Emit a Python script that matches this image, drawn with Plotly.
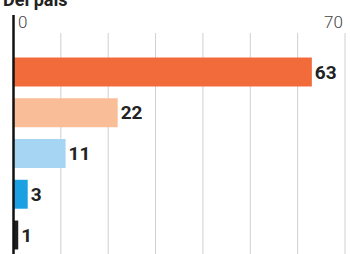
import plotly.graph_objects as go

categories = ["A", "B", "C", "D", "E"]
values = [63, 22, 11, 3, 1]
colors = ["#F26B3A", "#F9BD98", "#A6D5F4", "#1BA1E2", "#1E1E1E"]
tick_vals = [0, 10, 20, 30, 40, 50, 60, 70]
title = "Del país"

W, H = 350, 254
x0px, x70px = 13.5, 345.0
ppu = (x70px - x0px) / 70
xrange = [-x0px / ppu, (W - x0px) / ppu]

c0, step = 72.0, 40.75
yrange = [(H - c0) / step, -c0 / step]

ypos = list(range(len(categories)))

fig = go.Figure(go.Bar(
    x=values, y=ypos, orientation="h",
    marker=dict(color=colors, line=dict(width=0)),
    width=0.71,
    text=[str(v) for v in values], textposition="outside",
    textfont=dict(family="Roboto", size=19, weight="bold", color="#222"),
    cliponaxis=False, hoverinfo="skip",
))

shapes = []
for t in tick_vals[1:]:
    shapes.append(dict(type="line", xref="x", yref="paper", x0=t, x1=t,
                       y0=0, y1=1 - 33 / H, line=dict(color="#cfcfcf", width=1),
                       layer="below"))
shapes.append(dict(type="line", xref="x", yref="paper", x0=0, x1=0,
                   y0=0, y1=1 - 15 / H, line=dict(color="#111", width=2.5),
                   layer="above"))

annotations = [
    dict(text="0", x=0, xref="x", xanchor="left", xshift=2, y=1 - 22 / H, yref="paper",
         yanchor="middle", showarrow=False,
         font=dict(family="Roboto", size=17, weight=300, color="#444")),
    dict(text="70", x=70, xref="x", xanchor="right", xshift=0, y=1 - 22 / H, yref="paper",
         yanchor="middle", showarrow=False,
         font=dict(family="Roboto", size=17, weight=300, color="#444")),
    dict(text=title, x=0, xref="paper", xanchor="left", xshift=1, y=1 + 1 / H, yref="paper",
         yanchor="middle", showarrow=False,
         font=dict(family="Roboto", size=18, weight="bold", color="#222")),
]

fig.update_layout(
    width=W, height=H, margin=dict(l=0, r=0, t=0, b=0),
    paper_bgcolor="white", plot_bgcolor="white",
    xaxis=dict(range=xrange, showgrid=False, zeroline=False, showticklabels=False, fixedrange=True),
    yaxis=dict(range=yrange, showgrid=False, zeroline=False, showticklabels=False, fixedrange=True),
    shapes=shapes, annotations=annotations, showlegend=False,
)

fig.write_html("out.html", config={"displayModeBar": False},
               post_script="document.body.style.margin='0';document.body.style.overflow='hidden';")
